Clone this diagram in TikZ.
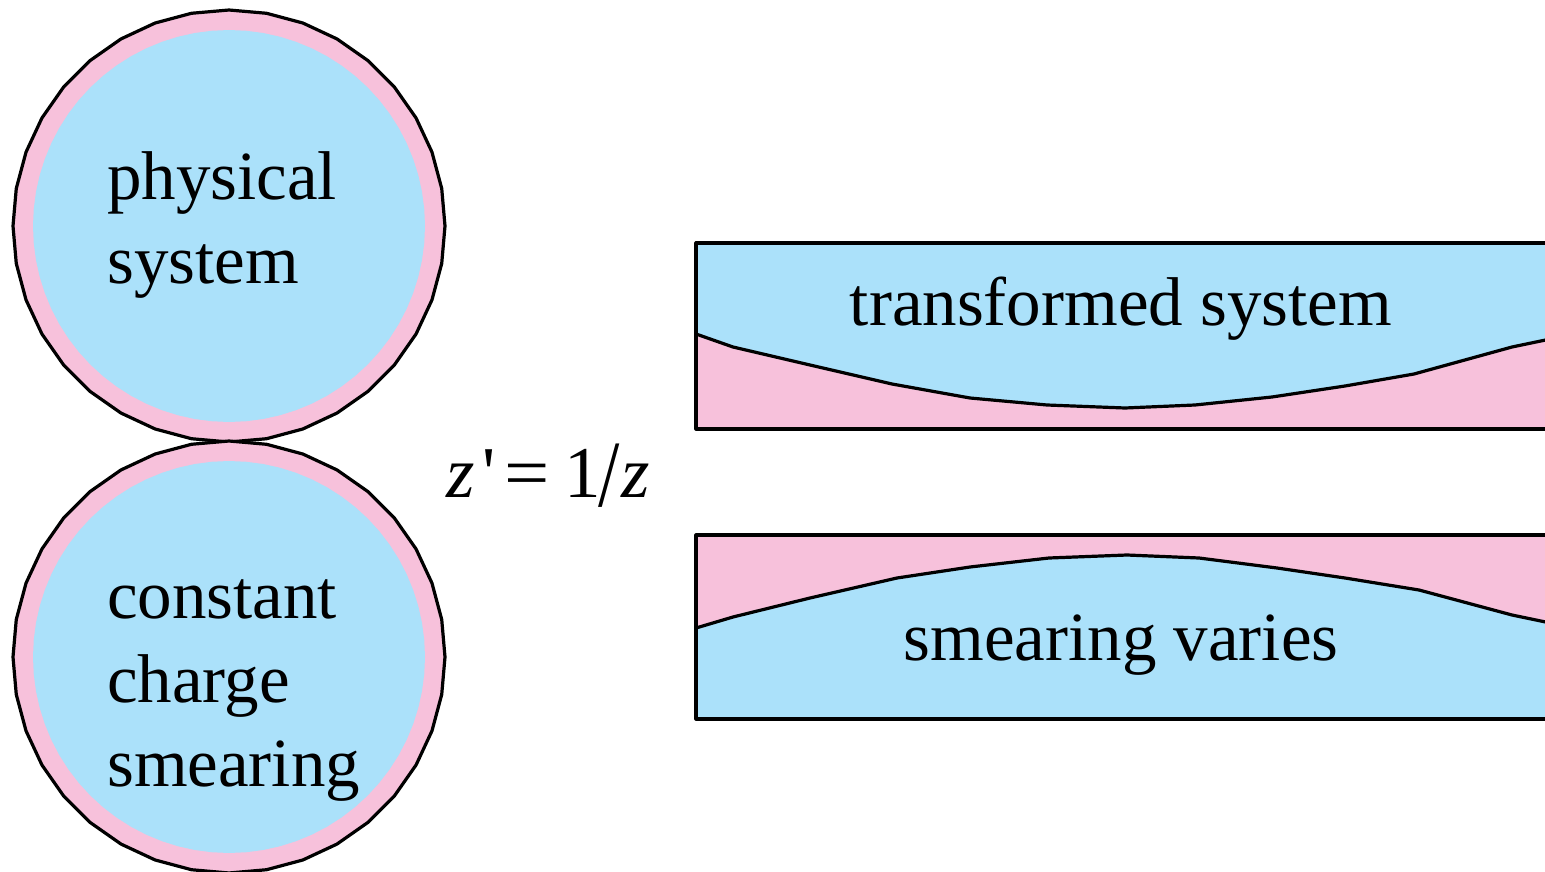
\documentclass[tikz,border=0pt]{standalone}
\usepackage{fontspec}
\usepackage{graphicx}
\setmainfont{Liberation Serif}
\definecolor{skyb}{RGB}{171,225,250}
\definecolor{pinkr}{RGB}{247,193,219}
\tikzset{
  outline/.style={draw=black,line width=3.2pt,line join=round},
  lbl/.style={inner sep=0pt,font=\fontsize{69}{84}\selectfont},
}
\begin{document}
\begin{tikzpicture}[x=1pt,y=-1pt]
\useasboundingbox (0,0) rectangle (1545,872);
\clip (0,0) rectangle (1545,872);
% circles
\foreach \cy in {226,657}{
  \filldraw[outline,fill=pinkr] plot[samples=37,domain=0:360] ({229+216*cos(\x)},{\cy+216*sin(\x)}) -- cycle;
  \fill[skyb] plot[samples=73,domain=0:360] ({229+196*cos(\x)},{\cy+196*sin(\x)}) -- cycle;
}
% top rectangle
\fill[skyb] (696,243) rectangle (1560,429);
\fill[pinkr] (696,429) -- (696,334) -- (733,347) -- (810,365) -- (892,384) -- (970,398) -- (1047,405) -- (1125,408) -- (1195,405) -- (1272,397) -- (1345,386) -- (1414,374) -- (1512,347) -- (1560,337) -- (1560,429) -- cycle;
\draw[outline] (696,334) -- (733,347) -- (810,365) -- (892,384) -- (970,398) -- (1047,405) -- (1125,408) -- (1195,405) -- (1272,397) -- (1345,386) -- (1414,374) -- (1512,347) -- (1560,337);
\draw[outline] (1560,243) -- (696,243) -- (696,429) -- (1560,429);
% bottom rectangle
\fill[pinkr] (696,535) rectangle (1560,719);
\fill[skyb] (696,719) -- (696,628) -- (733,617) -- (810,598) -- (897,578) -- (970,567) -- (1049,558) -- (1127,555) -- (1199,558) -- (1277,568) -- (1345,578) -- (1419,590) -- (1512,615) -- (1560,625) -- (1560,719) -- cycle;
\draw[outline] (696,628) -- (733,617) -- (810,598) -- (897,578) -- (970,567) -- (1049,558) -- (1127,555) -- (1199,558) -- (1277,568) -- (1345,578) -- (1419,590) -- (1512,615) -- (1560,625);
\draw[outline] (1560,535) -- (696,535) -- (696,719) -- (1560,719);
% labels
\node[lbl,anchor=base west,align=left] (phys) at (107,283) {physical\\system};
\node[lbl,anchor=base west,align=left] (const) at (107,786) {constant\\charge\\smearing};
\node[lbl,anchor=base] (trans) at (1121,325) {transformed system};
\node[lbl,anchor=base] (smear) at (1121,660) {smearing varies};
\node[lbl,anchor=base west,font=\fontsize{73}{84}\selectfont] (eq) at (446,497) {\textit{z}\kern8pt\textquotesingle\kern9pt\scalebox{1.1}[1]{=}\kern14pt1\kern-2pt\raisebox{-9pt}{\scalebox{1.05}[1.3]{/}}\kern2pt\textit{z}};
\end{tikzpicture}
\end{document}
